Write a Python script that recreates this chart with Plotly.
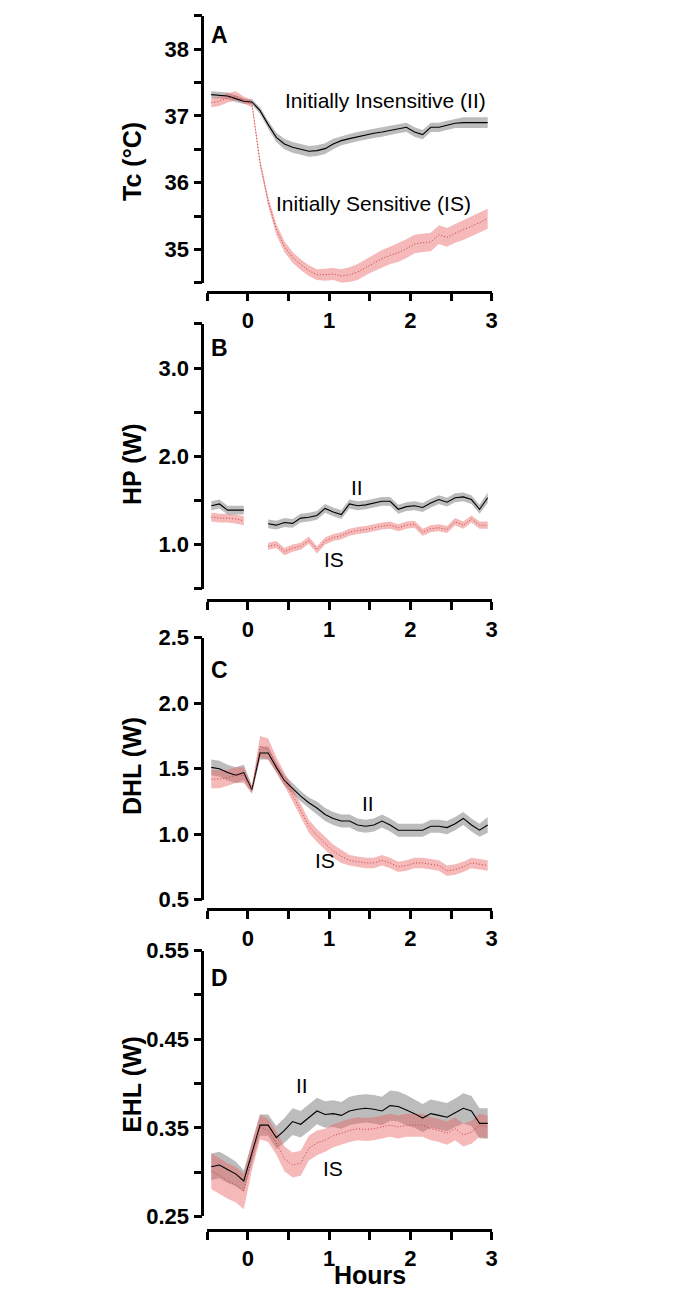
import plotly.graph_objects as go

W, H = 700, 1301

# ---------------- data ----------------
hours = [-0.45, -0.35, -0.25, -0.15, -0.05, 0.05, 0.15, 0.25, 0.35, 0.45,
         0.55, 0.65, 0.75, 0.85, 0.95, 1.05, 1.15, 1.25, 1.35, 1.45,
         1.55, 1.65, 1.75, 1.85, 1.95, 2.05, 2.15, 2.25, 2.35, 2.45,
         2.55, 2.65, 2.75, 2.85, 2.95]

tc_ii = [37.32, 37.31, 37.30, 37.26, 37.22, 37.21, 37.08, 36.87, 36.68, 36.58,
         36.53, 36.50, 36.47, 36.48, 36.51, 36.58, 36.63, 36.66, 36.69, 36.72,
         36.74, 36.76, 36.78, 36.81, 36.83, 36.76, 36.72, 36.83, 36.83, 36.86,
         36.89, 36.90, 36.90, 36.90, 36.90]
tc_ii_sem = [0.05, 0.05, 0.05, 0.05, 0.04, 0.04, 0.05, 0.06, 0.07, 0.08,
             0.08, 0.08, 0.08, 0.08, 0.08, 0.08, 0.07, 0.07, 0.07, 0.07,
             0.07, 0.07, 0.07, 0.07, 0.07, 0.07, 0.07, 0.07, 0.07, 0.07,
             0.07, 0.08, 0.08, 0.08, 0.08]
tc_is = [37.20, 37.22, 37.27, 37.30, 37.24, 37.18, 36.30, 35.72, 35.30, 35.04,
         34.88, 34.77, 34.68, 34.62, 34.62, 34.63, 34.60, 34.62, 34.66, 34.73,
         34.80, 34.86, 34.91, 34.95, 35.01, 35.08, 35.10, 35.11, 35.22, 35.18,
         35.24, 35.29, 35.34, 35.40, 35.46]
tc_is_sem = [0.07, 0.07, 0.07, 0.07, 0.05, 0.05, 0.06, 0.07, 0.08, 0.08,
             0.08, 0.08, 0.08, 0.08, 0.09, 0.09, 0.10, 0.11, 0.12, 0.12,
             0.13, 0.13, 0.13, 0.14, 0.14, 0.14, 0.14, 0.14, 0.14, 0.14,
             0.14, 0.15, 0.15, 0.15, 0.15]

hp_ii = [1.44, 1.46, 1.39, 1.39, 1.39, None, None, 1.235, 1.22, 1.25,
         1.24, 1.30, 1.31, 1.33, 1.41, 1.37, 1.34, 1.46, 1.44, 1.45,
         1.47, 1.49, 1.49, 1.40, 1.43, 1.44, 1.42, 1.47, 1.51, 1.48,
         1.53, 1.54, 1.51, 1.40, 1.53]
hp_ii_sem = [0.05, 0.05, 0.05, 0.05, 0.05, None, None, 0.05, 0.05, 0.05,
             0.05, 0.05, 0.05, 0.05, 0.05, 0.05, 0.05, 0.05, 0.05, 0.05,
             0.05, 0.05, 0.05, 0.05, 0.05, 0.05, 0.05, 0.05, 0.05, 0.05,
             0.05, 0.05, 0.05, 0.05, 0.06]
hp_is = [1.31, 1.30, 1.30, 1.29, 1.27, None, None, 0.98, 1.00, 0.92,
         0.96, 0.98, 1.05, 0.94, 1.04, 1.08, 1.10, 1.14, 1.16, 1.17,
         1.19, 1.21, 1.22, 1.19, 1.22, 1.23, 1.14, 1.18, 1.19, 1.17,
         1.26, 1.22, 1.29, 1.22, 1.22]
hp_is_sem = [0.05, 0.05, 0.05, 0.05, 0.05, None, None, 0.04, 0.04, 0.04,
             0.04, 0.04, 0.04, 0.04, 0.04, 0.04, 0.04, 0.04, 0.04, 0.04,
             0.04, 0.04, 0.04, 0.04, 0.04, 0.04, 0.04, 0.04, 0.04, 0.04,
             0.04, 0.04, 0.04, 0.04, 0.04]

dhl_ii = [1.51, 1.50, 1.47, 1.45, 1.47, 1.34, 1.62, 1.62, 1.51, 1.41,
          1.35, 1.29, 1.24, 1.20, 1.15, 1.12, 1.10, 1.10, 1.07, 1.06,
          1.07, 1.10, 1.07, 1.03, 1.03, 1.03, 1.03, 1.06, 1.06, 1.05,
          1.08, 1.12, 1.07, 1.03, 1.07]
dhl_ii_sem = [0.06, 0.06, 0.06, 0.06, 0.06, 0.03, 0.05, 0.05, 0.04, 0.04,
              0.04, 0.04, 0.04, 0.05, 0.05, 0.05, 0.05, 0.05, 0.05, 0.05,
              0.05, 0.05, 0.05, 0.05, 0.05, 0.05, 0.05, 0.05, 0.05, 0.05,
              0.05, 0.05, 0.05, 0.05, 0.06]
dhl_is = [1.42, 1.42, 1.43, 1.45, 1.45, 1.34, 1.67, 1.65, 1.53, 1.42,
          1.30, 1.18, 1.06, 0.99, 0.93, 0.87, 0.83, 0.80, 0.79, 0.78,
          0.78, 0.80, 0.78, 0.75, 0.76, 0.78, 0.78, 0.77, 0.76, 0.72,
          0.73, 0.75, 0.78, 0.77, 0.76]
dhl_is_sem = [0.07, 0.07, 0.06, 0.06, 0.06, 0.03, 0.08, 0.08, 0.06, 0.05,
              0.05, 0.05, 0.05, 0.05, 0.05, 0.05, 0.05, 0.04, 0.04, 0.04,
              0.04, 0.04, 0.04, 0.04, 0.04, 0.04, 0.04, 0.04, 0.04, 0.04,
              0.04, 0.04, 0.04, 0.04, 0.04]

ehl_ii = [0.306, 0.308, 0.303, 0.298, 0.290, 0.321, 0.353, 0.353, 0.339, 0.347,
          0.357, 0.354, 0.361, 0.369, 0.365, 0.366, 0.364, 0.369, 0.371, 0.372,
          0.371, 0.369, 0.375, 0.374, 0.370, 0.366, 0.361, 0.366, 0.364, 0.362,
          0.367, 0.372, 0.369, 0.355, 0.355]
ehl_ii_sem = [0.015, 0.015, 0.015, 0.014, 0.012, 0.012, 0.012, 0.012, 0.013, 0.014,
              0.015, 0.015, 0.015, 0.015, 0.015, 0.015, 0.015, 0.016, 0.016, 0.016,
              0.016, 0.016, 0.017, 0.017, 0.017, 0.016, 0.016, 0.016, 0.016, 0.016,
              0.016, 0.017, 0.017, 0.017, 0.017]
ehl_is = [0.301, 0.296, 0.290, 0.286, 0.278, 0.318, 0.351, 0.347, 0.333, 0.315,
          0.308, 0.310, 0.327, 0.333, 0.336, 0.341, 0.344, 0.347, 0.349, 0.348,
          0.349, 0.351, 0.353, 0.351, 0.353, 0.353, 0.353, 0.349, 0.347, 0.344,
          0.349, 0.342, 0.345, 0.353, 0.351]
ehl_is_sem = [0.020, 0.020, 0.020, 0.020, 0.020, 0.016, 0.014, 0.013, 0.013, 0.014,
              0.014, 0.014, 0.014, 0.014, 0.013, 0.013, 0.013, 0.013, 0.013, 0.013,
              0.013, 0.013, 0.013, 0.013, 0.013, 0.013, 0.013, 0.013, 0.013, 0.013,
              0.013, 0.013, 0.013, 0.013, 0.013]

x_ticks = [0, 1, 2, 3]
x_minor = [-0.5, 0.5, 1.5, 2.5]

panels = [
    dict(letter="A", title="Tc (°C)", ii=tc_ii, ii_s=tc_ii_sem, is_=tc_is, is_s=tc_is_sem,
         yr=[34.5, 38.5], tv=[35, 36, 37, 38], tt=["35", "36", "37", "38"],
         mv=[34.5, 35.5, 36.5, 37.5, 38.5]),
    dict(letter="B", title="HP (W)", ii=hp_ii, ii_s=hp_ii_sem, is_=hp_is, is_s=hp_is_sem,
         yr=[0.5, 3.5], tv=[1, 2, 3], tt=["1.0", "2.0", "3.0"],
         mv=[0.5, 1.5, 2.5, 3.5]),
    dict(letter="C", title="DHL (W)", ii=dhl_ii, ii_s=dhl_ii_sem, is_=dhl_is, is_s=dhl_is_sem,
         yr=[0.5, 2.5], tv=[0.5, 1.0, 1.5, 2.0, 2.5], tt=["0.5", "1.0", "1.5", "2.0", "2.5"],
         mv=[]),
    dict(letter="D", title="EHL (W)", ii=ehl_ii, ii_s=ehl_ii_sem, is_=ehl_is, is_s=ehl_is_sem,
         yr=[0.25, 0.55], tv=[0.25, 0.35, 0.45, 0.55], tt=["0.25", "0.35", "0.45", "0.55"],
         mv=[0.30, 0.40, 0.50]),
]

# ---------------- layout geometry (pixels) ----------------
x_left_px, x_right_px = 209, 496
yaxis_x_px = 204
y_domains_px = [(4, 276), (318, 588), (638, 905), (957, 1228)]
xaxis_y_px = [285, 600, 915, 1242]
title_y_px = [152, 461, 769, 1093]
letter_y_px = [23, 343, 671, 985]

def px(x):
    return x / W

def py(y):
    return 1 - y / H

FONT = "Liberation Sans, Arial, Helvetica, sans-serif"
GREY = "rgb(188,188,188)"
PINK = "rgba(232,100,100,0.45)"
RED = "rgb(205,60,60)"

def segments(vals):
    segs, cur = [], []
    for i, v in enumerate(vals):
        if v is None:
            if cur:
                segs.append(cur)
                cur = []
        else:
            cur.append(i)
    if cur:
        segs.append(cur)
    return segs

fig = go.Figure()
layout = dict(width=W, height=H, margin=dict(l=0, r=0, t=0, b=0),
              paper_bgcolor="white", plot_bgcolor="white", showlegend=False,
              annotations=[])

for k, p in enumerate(panels):
    n = "" if k == 0 else str(k + 1)
    xa, ya = "x" + n, "y" + n
    for m, s, col in [(p["ii"], p["ii_s"], GREY), (p["is_"], p["is_s"], PINK)]:
        for seg in segments(m):
            xs = [hours[i] for i in seg]
            up = [m[i] + s[i] for i in seg]
            lo = [m[i] - s[i] for i in seg]
            fig.add_trace(go.Scatter(x=xs + xs[::-1], y=up + lo[::-1], fill="toself",
                                     fillcolor=col, line=dict(width=0), mode="lines",
                                     hoverinfo="skip", xaxis=xa, yaxis=ya))
    fig.add_trace(go.Scatter(x=hours, y=p["ii"], mode="lines", connectgaps=False,
                             line=dict(color="black", width=1.1), xaxis=xa, yaxis=ya))
    fig.add_trace(go.Scatter(x=hours, y=p["is_"], mode="lines", connectgaps=False,
                             line=dict(color=RED, width=1, dash="1px,2px"), xaxis=xa, yaxis=ya))

    y0, y1 = y_domains_px[k]
    layout["xaxis" + n] = dict(
        domain=[px(x_left_px), px(x_right_px)], range=[-0.5, 3], anchor="free",
        position=py(xaxis_y_px[k]), showgrid=False, zeroline=False,
        showline=True, linecolor="black", linewidth=2.5,
        tickmode="array", tickvals=x_ticks, ticktext=[str(v) for v in x_ticks],
        ticks="outside", ticklen=8, tickwidth=2.5, tickcolor="black",
        tickfont=dict(family=FONT, size=22, color="black", weight="bold"),
        minor=dict(tickmode="array", tickvals=x_minor, ticks="outside", ticklen=8,
                   tickwidth=2.5, tickcolor="black"),
    )
    ydict = dict(
        domain=[py(y1), py(y0)], range=p["yr"], anchor="free", position=px(yaxis_x_px),
        showgrid=False, zeroline=False, showline=True, linecolor="black", linewidth=2.5,
        tickmode="array", tickvals=p["tv"], ticktext=p["tt"],
        ticks="outside", ticklen=8, tickwidth=2.5, tickcolor="black",
        tickfont=dict(family=FONT, size=22, color="black", weight="bold"),
    )
    if p["mv"]:
        ydict["minor"] = dict(tickmode="array", tickvals=p["mv"], ticks="outside",
                              ticklen=8, tickwidth=2.5, tickcolor="black")
    layout["yaxis" + n] = ydict

    layout["annotations"].append(dict(
        text=p["title"], x=px(133), y=py(title_y_px[k]), xref="paper", yref="paper",
        textangle=-90, showarrow=False, xanchor="center", yanchor="middle",
        font=dict(family=FONT, size=25, color="black", weight="bold")))
    layout["annotations"].append(dict(
        text=p["letter"], x=px(211), y=py(letter_y_px[k]), xref="paper", yref="paper",
        showarrow=False, xanchor="left", yanchor="middle",
        font=dict(family=FONT, size=23, color="black", weight="bold")))

layout["annotations"].append(dict(
    text="Hours", x=px(373), y=py(1288), xref="paper", yref="paper", showarrow=False,
    xanchor="center", yanchor="middle",
    font=dict(family=FONT, size=25, color="black", weight="bold")))

labels = [
    ("Initially Insensitive (II)", 492, 90, "right"),
    ("Initially Sensitive (IS)", 276, 195, "left"),
    ("II", 360, 485, "center"),
    ("IS", 337, 558, "center"),
    ("II", 371, 807, "center"),
    ("IS", 328, 865, "center"),
    ("II", 305, 1095, "center"),
    ("IS", 336, 1179, "center"),
]
for txt, lx, ly, anc in labels:
    layout["annotations"].append(dict(
        text=txt, x=px(lx), y=py(ly), xref="paper", yref="paper", showarrow=False,
        xanchor=anc, yanchor="middle",
        font=dict(family=FONT, size=21, color="black")))

fig.update_layout(**layout)
fig.write_html("out.html", config=dict(displayModeBar=False),
               post_script="document.body.style.margin='0';document.body.style.padding='0';"
                           "document.body.style.overflow='hidden';")
